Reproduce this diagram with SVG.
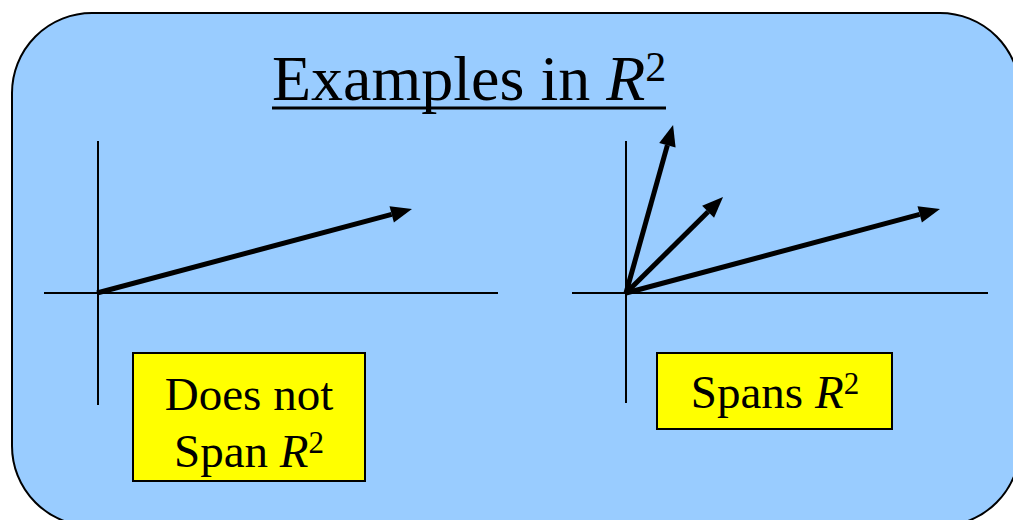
<svg xmlns="http://www.w3.org/2000/svg" width="1013" height="520" viewBox="0 0 1013 520">
  <style>
    text { font-family: 'Liberation Serif', 'Times New Roman', Times, serif; fill: #000; }
    .axis { stroke: #000; stroke-width: 2; }
    .vec { stroke: #000; stroke-width: 5; marker-end: url(#head); }
    .box { fill: #FFFF00; stroke: #000; stroke-width: 2; }
  </style>
  <defs>
    <marker id="head" markerUnits="userSpaceOnUse" markerWidth="24" markerHeight="20" refX="0" refY="8.5" orient="auto" overflow="visible">
      <path d="M0,0 L21,8.5 L0,17 Z" fill="#000"/>
    </marker>
  </defs>
  <g id="panel">
    <rect x="12" y="13" width="1008" height="513" rx="80" ry="80" fill="#99CCFF" stroke="#000" stroke-width="2"/>
  </g>
  <g id="title">
    <text x="272" y="100" font-size="64">Examples in <tspan font-style="italic">R</tspan><tspan font-size="42" dy="-19">2</tspan></text>
    <line x1="272" y1="108" x2="666" y2="108" stroke="#000" stroke-width="3"/>
  </g>
  <g id="axes">
    <line class="axis" x1="98" y1="141" x2="98" y2="405"/>
    <line class="axis" x1="44" y1="293" x2="498" y2="293"/>
    <line class="axis" x1="626" y1="141" x2="626" y2="403"/>
    <line class="axis" x1="572" y1="293" x2="988" y2="293"/>
  </g>
  <g id="connectors">
    <line class="vec" x1="97" y1="293" x2="391.7" y2="214.4"/>
    <line class="vec" x1="626" y1="293" x2="667.4" y2="145.2"/>
    <line class="vec" x1="626" y1="293" x2="708.1" y2="211.8"/>
    <line class="vec" x1="626" y1="293" x2="919.7" y2="214.4"/>
  </g>
  <g id="box-left">
    <rect class="box" x="133" y="353" width="232" height="128"/>
    <text x="249" y="410" font-size="47" text-anchor="middle">Does not</text>
    <text x="249" y="467" font-size="47" text-anchor="middle">Span <tspan font-style="italic">R</tspan><tspan font-size="31" dy="-14">2</tspan></text>
  </g>
  <g id="box-right">
    <rect class="box" x="657" y="353" width="235" height="76"/>
    <text x="775" y="408" font-size="47" text-anchor="middle">Spans <tspan font-style="italic">R</tspan><tspan font-size="31" dy="-14">2</tspan></text>
  </g>
</svg>
